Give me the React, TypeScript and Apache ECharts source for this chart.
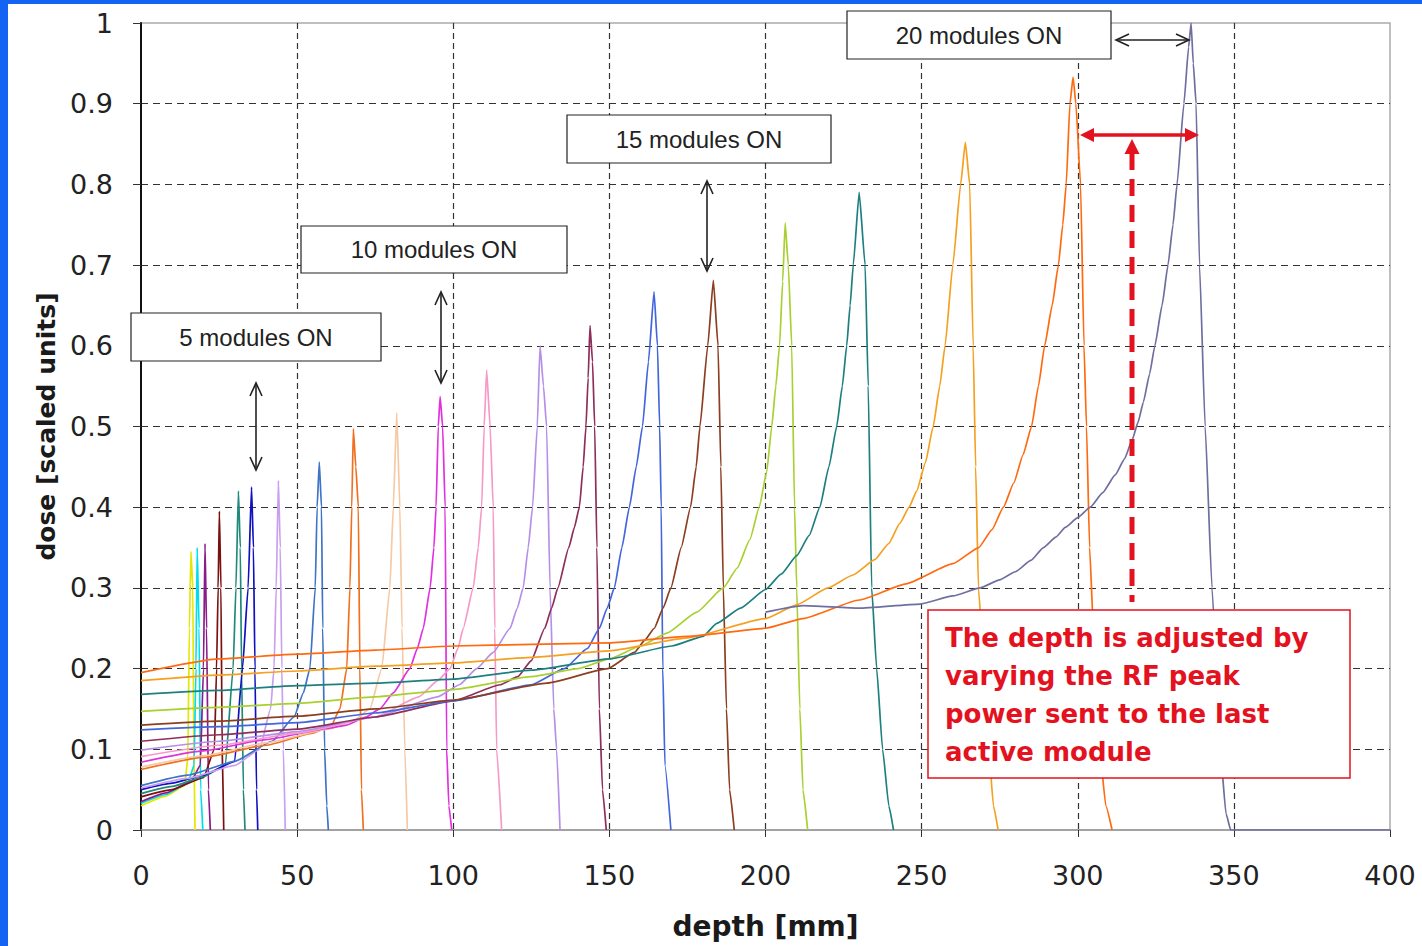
import { useEffect, useRef } from "react";
import * as echarts from "echarts";

// ---- axis ticks ----
const depthTicks = [0, 50, 100, 150, 200, 250, 300, 350, 400];
const doseTicks = [0, 0.1, 0.2, 0.3, 0.4, 0.5, 0.6, 0.7, 0.8, 0.9, 1];

// ---- depth-dose curves [depth mm, dose] ----
const curve01 = [[0, 0.03], [8, 0.042], [14, 0.055], [15, 0.09], [15.5, 0.25], [16, 0.345], [16.6, 0.3], [16.9, 0.1], [17.3, 0]];
const curve02 = [[0, 0.033], [8, 0.044], [15, 0.058], [17, 0.08], [17.6, 0.2], [18, 0.35], [18.6, 0.25], [19.1, 0.05], [19.8, 0]];
const curve03 = [[0, 0.035], [8, 0.046], [16, 0.06], [19, 0.08], [20, 0.2], [20.5, 0.355], [21, 0.25], [21.6, 0.05], [22.2, 0]];
const curve04 = [[0, 0.041], [10, 0.05], [20, 0.065], [23.5, 0.1], [24.2, 0.2], [24.7, 0.3], [25.1, 0.395], [25.6, 0.3], [26, 0.1], [26.5, 0]];
const curve05 = [[0, 0.045], [10, 0.054], [20, 0.066], [27, 0.08], [29.5, 0.2], [30.4, 0.3], [31.2, 0.42], [31.8, 0.35], [32.2, 0.2], [32.8, 0.05], [33.3, 0]];
const curve06 = [[0, 0.05], [10, 0.058], [20, 0.068], [30, 0.085], [32.5, 0.2], [34.3, 0.3], [35.4, 0.425], [36, 0.35], [36.5, 0.2], [37, 0.05], [37.4, 0]];
const curve07 = [[0, 0.052], [15, 0.064], [30, 0.08], [38, 0.1], [41.5, 0.15], [42.6, 0.2], [43.3, 0.3], [44, 0.433], [44.6, 0.35], [45.1, 0.2], [45.6, 0.1], [46.2, 0]];
const curve08 = [[0, 0.055], [15, 0.068], [30, 0.085], [42, 0.11], [49, 0.14], [52, 0.17], [54.1, 0.2], [55.8, 0.3], [56.4, 0.4], [57.1, 0.456], [57.8, 0.4], [58.2, 0.25], [58.8, 0.1], [59.5, 0.03], [60, 0]];
const curve09 = [[0, 0.075], [20, 0.09], [40, 0.105], [55, 0.12], [61, 0.13], [63.7, 0.15], [65.9, 0.2], [66.9, 0.3], [67.5, 0.4], [68, 0.497], [68.8, 0.45], [69.6, 0.4], [70.1, 0.2], [70.6, 0.05], [71.2, 0]];
const curve10 = [[0, 0.078], [20, 0.092], [40, 0.108], [60, 0.125], [68, 0.135], [73.3, 0.15], [77.1, 0.2], [79.7, 0.3], [80.8, 0.4], [81.9, 0.517], [82.9, 0.4], [83.6, 0.25], [84.5, 0.1], [85.3, 0]];
const curve11 = [[0, 0.084], [20, 0.098], [40, 0.112], [60, 0.126], [65.9, 0.13], [72, 0.14], [76.5, 0.15], [80.8, 0.17], [86.1, 0.2], [88.5, 0.225], [90.4, 0.25], [92.6, 0.3], [93.8, 0.35], [94.5, 0.4], [95.2, 0.5], [95.8, 0.537], [96.6, 0.5], [97.4, 0.4], [97.9, 0.1], [98.6, 0.03], [99.5, 0]];
const curve12 = [[0, 0.091], [25, 0.105], [50, 0.12], [75, 0.14], [89, 0.165], [95, 0.185], [99, 0.2], [101.5, 0.225], [103.2, 0.25], [106.4, 0.3], [108, 0.35], [109.1, 0.4], [109.9, 0.5], [110.7, 0.57], [111.8, 0.5], [112.8, 0.4], [113.3, 0.25], [113.9, 0.1], [115.5, 0]];
const curve13 = [[0, 0.099], [25, 0.11], [50, 0.122], [75, 0.14], [95, 0.165], [102, 0.18], [107.5, 0.2], [112.8, 0.22], [118.2, 0.25], [120.5, 0.275], [122.4, 0.3], [124, 0.35], [125.4, 0.4], [126.9, 0.5], [127.8, 0.6], [128.9, 0.55], [129.9, 0.5], [131, 0.3], [132.2, 0.15], [133.1, 0.1], [134.2, 0]];
const curve14 = [[0, 0.11], [25, 0.118], [50, 0.125], [75, 0.14], [100, 0.16], [115, 0.18], [120.7, 0.19], [125, 0.21], [129.3, 0.25], [131.5, 0.275], [133.5, 0.3], [137, 0.35], [138.8, 0.375], [140.4, 0.4], [141.6, 0.45], [142.5, 0.5], [143.2, 0.56], [143.8, 0.625], [144.6, 0.58], [145.3, 0.5], [146, 0.35], [146.8, 0.15], [147.8, 0.05], [149, 0]];
const curve15 = [[0, 0.124], [25, 0.128], [50, 0.133], [75, 0.145], [100, 0.16], [125, 0.18], [135.6, 0.2], [143, 0.225], [146.8, 0.25], [149.3, 0.275], [151.6, 0.3], [154, 0.35], [156.4, 0.4], [158.6, 0.45], [160.6, 0.5], [162.5, 0.58], [164.3, 0.667], [165.4, 0.6], [166.1, 0.5], [166.6, 0.4], [167.1, 0.2], [167.8, 0.08], [169.7, 0]];
const curve16 = [[0, 0.13], [25, 0.135], [50, 0.141], [75, 0.15], [100, 0.161], [130, 0.182], [149.5, 0.2], [158, 0.22], [161.3, 0.235], [164.4, 0.25], [167.2, 0.275], [169.7, 0.3], [173, 0.35], [176, 0.4], [177.8, 0.45], [179, 0.5], [181.5, 0.6], [183.3, 0.681], [184.8, 0.6], [185.7, 0.45], [186.5, 0.3], [187.5, 0.15], [188.5, 0.05], [190, 0]];
const curve17 = [[0, 0.147], [25, 0.152], [50, 0.157], [75, 0.165], [100, 0.174], [125, 0.19], [140, 0.2], [150, 0.212], [160, 0.228], [168.4, 0.244], [178, 0.27], [186.5, 0.3], [191, 0.325], [195, 0.36], [198, 0.4], [200.4, 0.444], [202, 0.5], [203.3, 0.55], [204.5, 0.6], [205.5, 0.68], [206.3, 0.752], [207.3, 0.7], [208.4, 0.6], [209.3, 0.4], [210, 0.3], [211, 0.15], [212, 0.05], [213.5, 0]];
const curve18 = [[0, 0.168], [25, 0.173], [50, 0.179], [75, 0.182], [100, 0.187], [125, 0.198], [150, 0.212], [170, 0.228], [180, 0.24], [184.4, 0.256], [192, 0.275], [200, 0.298], [205, 0.317], [210, 0.34], [214, 0.365], [217.4, 0.4], [220.3, 0.45], [222.8, 0.5], [224.6, 0.55], [226, 0.6], [227.1, 0.65], [228.1, 0.7], [230, 0.79], [231.9, 0.7], [232.9, 0.55], [234, 0.3], [235.6, 0.2], [237.5, 0.1], [239.5, 0.03], [241, 0]];
const curve19 = [[0, 0.185], [25, 0.192], [50, 0.197], [75, 0.203], [100, 0.207], [125, 0.214], [150, 0.222], [175, 0.238], [200, 0.262], [210, 0.279], [220, 0.3], [228, 0.316], [235, 0.335], [239.5, 0.355], [243, 0.38], [246, 0.4], [248.4, 0.42], [251.2, 0.455], [253.7, 0.5], [255.8, 0.55], [257.5, 0.6], [260, 0.7], [262.5, 0.8], [264, 0.852], [265.4, 0.8], [266.5, 0.6], [267.3, 0.45], [268.2, 0.3], [270, 0.2], [271.5, 0.1], [273, 0.03], [274.5, 0]];
const curve20 = [[0, 0.195], [25, 0.212], [50, 0.218], [75, 0.223], [100, 0.228], [125, 0.23], [150, 0.232], [175, 0.24], [200, 0.25], [212, 0.262], [230, 0.285], [245, 0.305], [260, 0.33], [268.3, 0.35], [272.5, 0.372], [276.2, 0.4], [279.5, 0.43], [282.5, 0.465], [285.2, 0.5], [287.4, 0.55], [289.4, 0.6], [291.8, 0.65], [293.8, 0.7], [295.2, 0.75], [296.3, 0.8], [297.5, 0.9], [298.5, 0.933], [299.4, 0.9], [300.9, 0.8], [302, 0.6], [302.8, 0.5], [303.8, 0.35], [305, 0.25], [307, 0.1], [309, 0.03], [311, 0]];
const curve21 = [[200, 0.27], [212, 0.278], [230, 0.275], [249.5, 0.28], [260, 0.29], [268.7, 0.3], [275, 0.31], [280, 0.32], [285, 0.334], [289, 0.35], [293, 0.363], [296, 0.375], [300, 0.387], [304, 0.4], [308, 0.418], [312, 0.44], [315, 0.46], [317.4, 0.483], [319.3, 0.505], [321, 0.53], [323, 0.565], [324.7, 0.6], [327, 0.65], [328.9, 0.7], [330.5, 0.75], [331.8, 0.8], [334, 0.9], [335.5, 0.97], [336.3, 1.0], [337, 0.95], [337.9, 0.9], [339, 0.7], [340.8, 0.5], [343, 0.3], [345.6, 0.1], [347.5, 0.02], [349, 0], [400, 0]];

const curves = [curve01, curve02, curve03, curve04, curve05, curve06, curve07, curve08, curve09, curve10, curve11, curve12, curve13, curve14, curve15, curve16, curve17, curve18, curve19, curve20, curve21];
const curveColors = [
  "#E6E600", "#00DDEE", "#8B1A8B", "#7A1010", "#1F8A7A", "#1010C0", "#C9A0F0",
  "#3F73C8", "#F07020", "#F5C9A5", "#E030E0", "#F59AC8", "#B690E8", "#8E2E5A",
  "#4466DD", "#8B3E20", "#A8D030", "#1E7F80", "#F5A020", "#FF6A10", "#6E6EA0",
];

// ---- texts ----
const moduleLabels = ["5 modules ON", "10 modules ON", "15 modules ON", "20 modules ON"];
const noteLines = ["The depth is adjusted by", "varying the RF peak", "power sent to the last", "active module"];

function vArrow(x: number, y1: number, y2: number) {
  const s = { stroke: "#222", lineWidth: 1.6, fill: "none" };
  return [
    { type: "line", z: 100, shape: { x1: x, y1, x2: x, y2 }, style: s },
    { type: "polyline", z: 100, shape: { points: [[x - 6, y1 + 13], [x, y1], [x + 6, y1 + 13]] }, style: s },
    { type: "polyline", z: 100, shape: { points: [[x - 6, y2 - 13], [x, y2], [x + 6, y2 - 13]] }, style: s },
  ];
}

function labelBox(x: number, y: number, w: number, h: number, text: string) {
  return [
    { type: "rect", z: 100, shape: { x, y, width: w, height: h }, style: { fill: "#fff", stroke: "#222", lineWidth: 1.2 } },
    {
      type: "text", z: 101, x: x + w / 2, y: y + h / 2,
      style: { text, font: '24px "Liberation Sans"', fill: "#222", align: "center", verticalAlign: "middle", textAlign: "center", textVerticalAlign: "middle" },
    },
  ];
}

export default function App() {
  const ref = useRef<HTMLDivElement>(null);
  useEffect(() => {
    const chart = echarts.init(ref.current!, undefined, { renderer: "svg" });
    const red = "#E3121E";
    const graphic: any[] = [
      { type: "rect", z: 200, shape: { x: 0, y: 0, width: 8, height: 946 }, style: { fill: "#1463F3" } },
      { type: "rect", z: 200, shape: { x: 0, y: 0, width: 1422, height: 4 }, style: { fill: "#1463F3" } },
      ...labelBox(131, 313, 250, 48, moduleLabels[0]),
      ...labelBox(301, 226, 266, 47, moduleLabels[1]),
      ...labelBox(567, 115, 264, 48, moduleLabels[2]),
      ...labelBox(847, 11, 264, 48, moduleLabels[3]),
      ...vArrow(256, 383, 470),
      ...vArrow(441, 292, 383),
      ...vArrow(707, 181, 271),
      { type: "line", z: 100, shape: { x1: 1116, y1: 40, x2: 1189, y2: 40 }, style: { stroke: "#222", lineWidth: 1.6 } },
      { type: "polyline", z: 100, shape: { points: [[1129, 34], [1116, 40], [1129, 46]] }, style: { stroke: "#222", lineWidth: 1.6, fill: "none" } },
      { type: "polyline", z: 100, shape: { points: [[1176, 34], [1189, 40], [1176, 46]] }, style: { stroke: "#222", lineWidth: 1.6, fill: "none" } },
      // red horizontal double arrow
      { type: "line", z: 100, shape: { x1: 1090, y1: 135, x2: 1188, y2: 135 }, style: { stroke: red, lineWidth: 3.5 } },
      { type: "polygon", z: 100, shape: { points: [[1080, 135], [1094, 128], [1094, 142]] }, style: { fill: red } },
      { type: "polygon", z: 100, shape: { points: [[1199, 135], [1185, 128], [1185, 142]] }, style: { fill: red } },
      // red dashed vertical arrow
      { type: "line", z: 100, shape: { x1: 1132, y1: 153, x2: 1132, y2: 602 }, style: { stroke: red, lineWidth: 5, lineDash: [17, 9] } },
      { type: "polygon", z: 100, shape: { points: [[1132, 139], [1124.5, 154], [1139.5, 154]] }, style: { fill: red } },
      // red note box
      { type: "rect", z: 100, shape: { x: 928, y: 610, width: 422, height: 168 }, style: { fill: "#fff", stroke: red, lineWidth: 1.5 } },
      ...noteLines.map((t, i) => ({
        type: "text", z: 101, x: 945, y: 638 + i * 38,
        style: { text: t, font: 'bold 26px "DejaVu Sans"', fill: red, align: "left", verticalAlign: "middle", textAlign: "left", textVerticalAlign: "middle" },
      })),
    ];

    chart.setOption({
      animation: false,
      backgroundColor: "#fff",
      grid: { left: 141, right: 32, top: 23, bottom: 116, show: true, borderColor: "#aaa", borderWidth: 1.5, backgroundColor: "transparent" },
      xAxis: {
        type: "value",
        min: depthTicks[0],
        max: depthTicks[depthTicks.length - 1],
        interval: depthTicks[1] - depthTicks[0],
        name: "depth [mm]",
        nameLocation: "middle",
        nameGap: 82,
        nameTextStyle: { fontFamily: "DejaVu Sans", fontWeight: "bold", fontSize: 28, color: "#1a1a1a" },
        axisLine: { show: true, onZero: false, lineStyle: { color: "#999", width: 1.5 } },
        axisTick: { show: true, length: 7, lineStyle: { color: "#333" } },
        axisLabel: { fontFamily: "DejaVu Sans", fontSize: 27, color: "#222", margin: 32 },
        splitLine: { show: true, showMinLine: false, showMaxLine: false, lineStyle: { color: "#333", type: [6, 4], width: 1.2 } },
      },
      yAxis: {
        type: "value",
        min: doseTicks[0],
        max: doseTicks[doseTicks.length - 1],
        interval: 0.1,
        name: "dose [scaled units]",
        nameLocation: "middle",
        nameGap: 80,
        nameTextStyle: { fontFamily: "DejaVu Sans", fontWeight: "bold", fontSize: 25, color: "#1a1a1a" },
        axisLine: { show: true, onZero: false, lineStyle: { color: "#111", width: 2 } },
        axisTick: { show: true, length: 8, lineStyle: { color: "#333" } },
        axisLabel: { fontFamily: "DejaVu Sans", fontSize: 27, color: "#222", margin: 28 },
        splitLine: { show: true, showMinLine: false, showMaxLine: false, lineStyle: { color: "#333", type: [7, 5], width: 1.2 } },
      },
      series: curves.map((d, i) => ({
        type: "line",
        data: d,
        showSymbol: false,
        symbol: "none",
        clip: true,
        smooth: 0.15,
        smoothMonotone: "x",
        lineStyle: { color: curveColors[i], width: 1.7 },
        itemStyle: { color: curveColors[i] },
        z: 3,
      })),
      graphic,
    });
    return () => chart.dispose();
  }, []);
  return <div ref={ref} style={{ position: "fixed", left: 0, top: 0, width: 1422, height: 946, background: "#fff" }} />;
}
